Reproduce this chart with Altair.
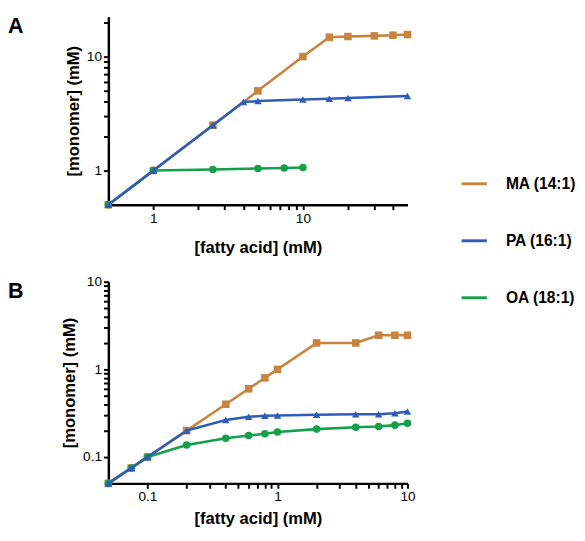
import altair as alt
import pandas as pd

series = ["MA (14:1)", "PA (16:1)", "OA (18:1)"]
colors = ["#C8843F", "#2E5CB8", "#12A04C"]
shapes = ["square", "triangle-up", "circle"]
draw_order = [0, 2, 1]  # MA, OA, PA (PA drawn on top)

# Panel A
a_ma_x = [0.5, 1, 2.5, 5, 10, 15, 20, 30, 40, 50]
a_ma_y = [0.5, 1, 2.5, 5.0, 10, 14.8, 15.0, 15.2, 15.4, 15.6]
a_pa_x = [0.5, 1, 2.5, 4, 5, 10, 15, 20, 50]
a_pa_y = [0.5, 1, 2.5, 4.0, 4.07, 4.2, 4.27, 4.32, 4.5]
a_oa_x = [0.5, 1, 2.5, 5, 7.5, 10]
a_oa_y = [0.5, 1, 1.02, 1.04, 1.05, 1.06]

# Panel B
b_x = [0.05, 0.075, 0.1, 0.2, 0.4, 0.6, 0.8, 1, 2, 4, 6, 8, 10]
b_ma_y = [0.05, 0.075, 0.1, 0.2, 0.4, 0.6, 0.8, 1.0, 2.0, 2.0, 2.45, 2.45, 2.45]
b_pa_y = [0.05, 0.075, 0.1, 0.2, 0.265, 0.288, 0.295, 0.297, 0.303, 0.308, 0.308, 0.316, 0.33]
b_oa_y = [0.05, 0.075, 0.1, 0.137, 0.164, 0.176, 0.184, 0.193, 0.208, 0.218, 0.223, 0.231, 0.243]

# Axis ticks
a_xticks = [1, 2, 3, 4, 5, 6, 7, 8, 9, 10, 20, 30, 40]
a_xlabels = [1, 10]
a_yticks = [1, 2, 3, 4, 5, 6, 7, 8, 9, 10, 20]
a_ylabels = [1, 10]
b_ticks = [0.1, 0.2, 0.3, 0.4, 0.5, 0.6, 0.7, 0.8, 0.9, 1, 2, 3, 4, 5, 6, 7, 8, 9, 10]
b_labels = [0.1, 1, 10]


def frame(pairs):
    rows = []
    for name, xs, ys in pairs:
        for xv, yv in zip(xs, ys):
            rows.append({"series": name, "x": xv, "y": yv})
    return pd.DataFrame(rows)


df_a = frame([(series[0], a_ma_x, a_ma_y), (series[1], a_pa_x, a_pa_y),
              (series[2], a_oa_x, a_oa_y)])
df_b = frame([(series[0], b_x, b_ma_y), (series[1], b_x, b_pa_y),
              (series[2], b_x, b_oa_y)])

FONT = "Liberation Sans"


def label_expr(labels):
    arr = ",".join(str(v) for v in labels)
    return f"indexof([{arr}], datum.value) >= 0 ? format(datum.value, '~g') : ''"


def panel(df, xdom, ydom, xticks, xlabels, yticks, ylabels, w, h, letter, legend, xtp):
    x = alt.X("x:Q", scale=alt.Scale(type="log", domain=xdom, nice=False),
              axis=alt.Axis(values=xticks, labelExpr=label_expr(xlabels),
                            title="[fatty acid] (mM)", labelFlush=False,
                            labelOverlap=False, titlePadding=xtp))
    y = alt.Y("y:Q", scale=alt.Scale(type="log", domain=ydom, nice=False),
              axis=alt.Axis(values=yticks, labelExpr=label_expr(ylabels),
                            title="[monomer] (mM)", labelOverlap=False))
    cscale = alt.Scale(domain=series, range=colors)
    base = alt.Chart(df)
    layers = []
    for i in draw_order:
        s = series[i]
        sub = base.transform_filter(alt.datum.series == s)
        if legend:
            leg = alt.Legend(orient="none", legendX=361, legendY=157,
                             symbolType="stroke", direction="vertical")
        else:
            leg = None
        layers.append(sub.mark_line(strokeWidth=2.6, clip=False).encode(
            x=x, y=y,
            color=alt.Color("series:N", scale=cscale, title=None, legend=leg)))
        layers.append(sub.mark_point(filled=True, size=60, opacity=1, clip=False,
                                     shape=shapes[i], color=colors[i]).encode(
            x=x, y=y))
    letter_layer = alt.Chart(pd.DataFrame({"t": [letter]})).mark_text(
        align="left", baseline="top", fontSize=22, fontWeight="bold", font=FONT,
        color="black").encode(text="t:N", x=alt.value(-103), y=alt.value(0))
    layers.append(letter_layer)
    return alt.layer(*layers).properties(width=w, height=h)


pa = panel(df_a, [0.5, 50], [0.5, 22.4], a_xticks, a_xlabels, a_yticks, a_ylabels,
           307, 193, "A", True, 15)
pb = panel(df_b, [0.05, 10], [0.05, 10], b_ticks, b_labels, b_ticks, b_labels,
           307, 207, "B", False, 7)

chart = alt.vconcat(pa, pb, spacing=20).properties(padding=0).configure(
    font=FONT
).configure_view(stroke=None).configure_axis(
    grid=False, domainColor="black", domainWidth=2.5, tickColor="black",
    tickWidth=2, tickSize=5, labelPadding=2, labelFont=FONT, labelFontSize=14,
    labelColor="black", titleFont=FONT, titleFontSize=17, titleFontWeight="bold",
    titleColor="black"
).configure_legend(
    labelFont=FONT, labelFontSize=16, labelFontWeight="bold", labelColor="black",
    symbolSize=676, symbolStrokeWidth=3, labelOffset=18, rowPadding=35.5,
    labelLimit=300
)

chart.save("out.html", embed_options={"renderer": "svg", "actions": False})
